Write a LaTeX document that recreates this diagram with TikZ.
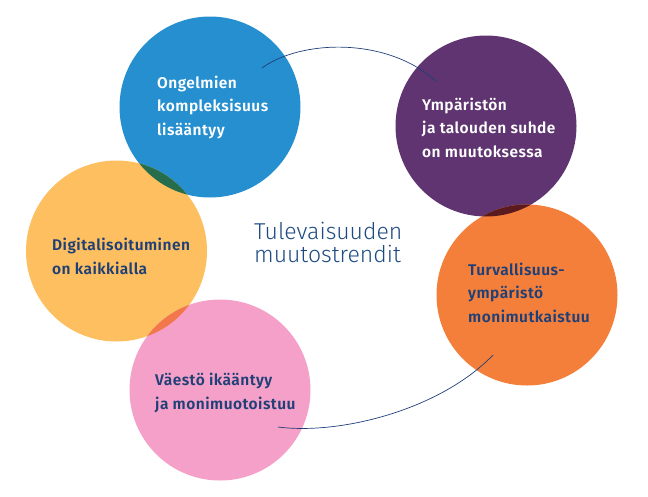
\documentclass[tikz,border=0pt]{standalone}
\usepackage{fontspec}
\setmainfont{Fira Sans}
\newfontfamily\labfont{Fira Sans SemiBold}[LetterSpace=3]
\newfontfamily\titfont{Fira Sans Light}
\definecolor{cblue}{HTML}{258FCF}
\definecolor{cpurple}{HTML}{5F3470}
\definecolor{cyellow}{HTML}{FDBF5F}
\definecolor{corange}{HTML}{F37F3B}
\definecolor{cpink}{HTML}{F4A0C8}
\definecolor{cgreen}{HTML}{256D4D}
\definecolor{cpy}{HTML}{F2784B}
\definecolor{cpo}{HTML}{5B1B1E}
\definecolor{navy}{HTML}{1F3F77}
\definecolor{titcol}{HTML}{1E4A82}
\tikzset{
  bubble/.style={circle, minimum size=181pt, inner sep=0pt, draw=none},
  lab/.style={anchor=base west, inner sep=0pt, align=left,
    font={\labfont\fontsize{15.5}{23.5}\selectfont}},
  wlab/.style={lab, text=white},
  nlab/.style={lab, text=navy},
  link/.style={draw=navy, line width=0.7pt}
}
\begin{document}
\begin{tikzpicture}[x=1pt,y=-1pt]
\useasboundingbox (0,0) rectangle (648,496);
\def\R{90.5}
\node[bubble, fill=cblue]   (blue)   at (210,107) {};
\node[bubble, fill=cpurple] (purple) at (486,126) {};
\node[bubble, fill=cyellow] (yellow) at (116.5,251) {};
\node[bubble, fill=corange] (orange) at (527,295) {};
\node[bubble, fill=cpink]   (pink)   at (220,390) {};
\begin{scope}
  \clip (blue.center) circle (\R);
  \fill[cgreen] (yellow.center) circle (\R);
\end{scope}
\begin{scope}
  \clip (pink.center) circle (\R);
  \fill[cpy] (yellow.center) circle (\R);
\end{scope}
\begin{scope}
  \clip (purple.center) circle (\R);
  \fill[cpo] (orange.center) circle (\R);
\end{scope}
\coordinate (u1) at (262,68);
\coordinate (u2) at (437,82);
\coordinate (l1) at (278,427);
\coordinate (l2) at (493,355);
\draw[link] (u1) .. controls (300,40) and (387,36) .. (u2);
\draw[link] (l1) .. controls (340,435) and (440,410) .. (l2);
\node[wlab] (tblue) at (157,135) {Ongelmien\\kompleksisuus\\lisääntyy};
\node[wlab] (tpurple) at (422,157) {Ympäristön\\ja talouden suhde\\on muutoksessa};
\node[nlab] (tyellow) at (52,274) {Digitalisoituminen\\on kaikkialla};
\node[nlab] (torange) at (468,322) {Turvallisuus-\\ympäristö\\monimutkaistuu};
\node[nlab] (tpink) at (155,409) {Väestö ikääntyy\\ja monimuotoistuu};
\node[anchor=base west, inner sep=0pt, align=left, text=titcol,
  font={\titfont\fontsize{23}{22.5}\selectfont}] (title) at (254,262)
  {Tulevaisuuden\\muutostrendit};
\end{tikzpicture}
\end{document}
